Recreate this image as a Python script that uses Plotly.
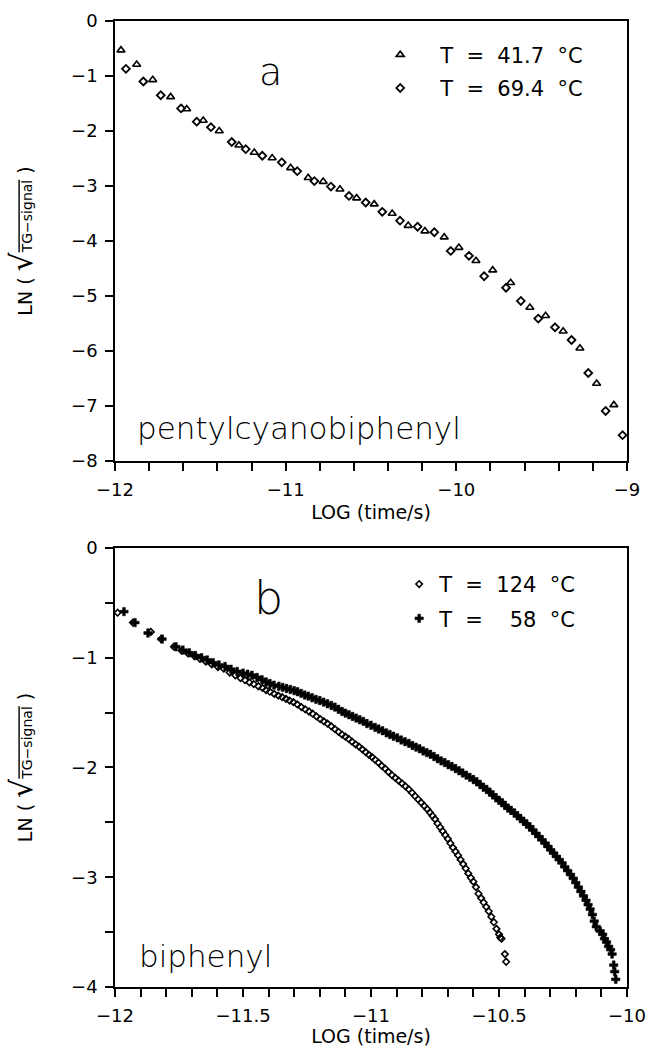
import plotly.graph_objects as go

# panel a: pentylcyanobiphenyl
a_tri_x = [-11.965, -11.873, -11.779, -11.674, -11.580, -11.483, -11.389, -11.274, -11.184, -11.079,
           -10.971, -10.868, -10.780, -10.682, -10.584, -10.481, -10.376, -10.282, -10.184, -10.071,
           -9.985, -9.885, -9.787, -9.682, -9.569, -9.477, -9.374, -9.276, -9.178, -9.077]
a_tri_y = [-0.53, -0.79, -1.07, -1.38, -1.60, -1.81, -2.00, -2.26, -2.39, -2.49,
           -2.67, -2.85, -2.92, -3.06, -3.22, -3.33, -3.50, -3.72, -3.82, -3.93,
           -4.12, -4.36, -4.53, -4.76, -5.21, -5.36, -5.64, -5.95, -6.59, -6.98]
a_dia_x = [-11.936, -11.834, -11.732, -11.613, -11.521, -11.438, -11.316, -11.234, -11.137, -11.023,
           -10.932, -10.832, -10.735, -10.629, -10.531, -10.434, -10.330, -10.227, -10.129, -10.033,
           -9.926, -9.837, -9.709, -9.622, -9.520, -9.422, -9.325, -9.227, -9.125, -9.026]
a_dia_y = [-0.87, -1.10, -1.35, -1.59, -1.83, -1.93, -2.20, -2.33, -2.45, -2.57,
           -2.73, -2.91, -3.01, -3.18, -3.30, -3.47, -3.63, -3.74, -3.84, -4.18,
           -4.27, -4.64, -4.85, -5.09, -5.41, -5.57, -5.80, -6.40, -7.09, -7.53]

# panel b: biphenyl, T = 124 C (diamonds)
b_dia_x = [-11.99, -11.93, -11.86, -11.82, -11.77, -11.74, -11.715, -11.69, -11.668, -11.645,
           -11.622, -11.598, -11.575, -11.552, -11.53, -11.51, -11.492, -11.475, -11.458, -11.44,
           -11.424, -11.41, -11.395, -11.378, -11.362, -11.347, -11.332, -11.318, -11.303, -11.288,
           -11.272, -11.257, -11.242, -11.228, -11.213, -11.198, -11.184, -11.17, -11.155, -11.141,
           -11.127, -11.113, -11.1, -11.087, -11.074, -11.06, -11.047, -11.034, -11.021, -11.008,
           -10.996, -10.984, -10.971, -10.958, -10.945, -10.932, -10.918, -10.905, -10.892, -10.879,
           -10.866, -10.852, -10.84, -10.828, -10.816, -10.804, -10.792, -10.78, -10.77, -10.76,
           -10.75, -10.74, -10.73, -10.72, -10.71, -10.70, -10.69, -10.68, -10.67, -10.66,
           -10.65, -10.64, -10.63, -10.62, -10.61, -10.60, -10.59, -10.58, -10.57, -10.56,
           -10.55, -10.54, -10.53, -10.52, -10.51, -10.50, -10.495, -10.49, -10.477, -10.472]
b_dia_y = [-0.59, -0.68, -0.765, -0.83, -0.90, -0.935, -0.96, -0.985, -1.01, -1.035,
           -1.06, -1.085, -1.10, -1.135, -1.16, -1.185, -1.205, -1.225, -1.24, -1.26,
           -1.275, -1.295, -1.31, -1.33, -1.345, -1.36, -1.375, -1.39, -1.405, -1.425,
           -1.45, -1.47, -1.49, -1.51, -1.535, -1.56, -1.58, -1.60, -1.625, -1.65,
           -1.675, -1.70, -1.72, -1.74, -1.765, -1.79, -1.81, -1.835, -1.86, -1.885,
           -1.905, -1.93, -1.955, -1.985, -2.01, -2.04, -2.07, -2.095, -2.12, -2.145,
           -2.17, -2.20, -2.23, -2.26, -2.29, -2.32, -2.35, -2.38, -2.41, -2.44,
           -2.47, -2.51, -2.545, -2.58, -2.615, -2.65, -2.69, -2.73, -2.765, -2.80,
           -2.84, -2.88, -2.92, -2.965, -3.005, -3.04, -3.09, -3.15, -3.19, -3.23,
           -3.27, -3.31, -3.36, -3.41, -3.47, -3.52, -3.55, -3.56, -3.70, -3.77]

# panel b: biphenyl, T = 58 C (crosses)
b_crs_x = [-11.965, -11.922, -11.871, -11.816, -11.762, -11.735, -11.71, -11.686, -11.662, -11.64,
           -11.617, -11.594, -11.57, -11.547, -11.523, -11.5, -11.482, -11.465, -11.445, -11.426,
           -11.41, -11.395, -11.379, -11.36, -11.345, -11.33, -11.315, -11.3, -11.287, -11.273,
           -11.259, -11.245, -11.23, -11.215, -11.2, -11.185, -11.17, -11.155, -11.141, -11.127,
           -11.113, -11.1, -11.086, -11.072, -11.058, -11.044, -11.03, -11.016, -11.0, -10.984,
           -10.97, -10.955, -10.94, -10.926, -10.912, -10.897, -10.882, -10.867, -10.852, -10.838,
           -10.824, -10.81, -10.796, -10.782, -10.768, -10.754, -10.74, -10.726, -10.712, -10.698,
           -10.684, -10.67, -10.656, -10.642, -10.628, -10.614, -10.6, -10.587, -10.574, -10.561,
           -10.548, -10.536, -10.524, -10.512, -10.5, -10.488, -10.477, -10.465, -10.453, -10.44,
           -10.428, -10.416, -10.404, -10.392, -10.38, -10.368, -10.356, -10.344, -10.332, -10.32,
           -10.309, -10.298, -10.287, -10.276, -10.265, -10.254, -10.243, -10.232, -10.221, -10.21,
           -10.2, -10.19, -10.18, -10.17, -10.16, -10.152, -10.144, -10.135, -10.128, -10.12,
           -10.105, -10.095, -10.088, -10.08, -10.072, -10.064, -10.058, -10.052, -10.048, -10.044]
b_crs_y = [-0.58, -0.68, -0.775, -0.83, -0.90, -0.93, -0.955, -0.98, -1.0, -1.02,
           -1.045, -1.065, -1.08, -1.105, -1.125, -1.14, -1.15, -1.16, -1.18, -1.20,
           -1.22, -1.235, -1.25, -1.26, -1.27, -1.28, -1.29, -1.30, -1.31, -1.325,
           -1.34, -1.35, -1.365, -1.38, -1.39, -1.405, -1.42, -1.435, -1.45, -1.47,
           -1.49, -1.505, -1.52, -1.535, -1.55, -1.565, -1.58, -1.60, -1.615, -1.635,
           -1.65, -1.665, -1.685, -1.70, -1.715, -1.73, -1.75, -1.765, -1.78, -1.80,
           -1.815, -1.83, -1.85, -1.865, -1.88, -1.90, -1.92, -1.94, -1.955, -1.975,
           -1.99, -2.01, -2.03, -2.05, -2.07, -2.09, -2.11, -2.13, -2.155, -2.18,
           -2.20, -2.225, -2.25, -2.275, -2.30, -2.32, -2.345, -2.37, -2.39, -2.415,
           -2.44, -2.465, -2.49, -2.515, -2.54, -2.57, -2.60, -2.63, -2.66, -2.69,
           -2.72, -2.75, -2.78, -2.81, -2.84, -2.87, -2.905, -2.94, -2.975, -3.01,
           -3.05, -3.09, -3.13, -3.17, -3.21, -3.25, -3.29, -3.34, -3.40, -3.45,
           -3.49, -3.52, -3.56, -3.59, -3.63, -3.66, -3.70, -3.80, -3.86, -3.93]

NB = "\u00a0"
names_a = [NB * 3 + "T" + NB * 2 + "=" + NB * 2 + "41.7" + NB * 2 + "°C",
           NB * 3 + "T" + NB * 2 + "=" + NB * 2 + "69.4" + NB * 2 + "°C"]
names_b = ["T" + NB * 2 + "=" + NB * 2 + "124" + NB * 2 + "°C",
           "T" + NB * 2 + "=" + NB * 4 + "58" + NB * 2 + "°C"]

FONT = "DejaVu Sans"
ytitle = ("LN ( <span style='font-size:30px'>√</span>"
          "<span style='font-size:14px;text-decoration:overline'>TG−signal</span> )")

fig = go.Figure()
fig.add_trace(go.Scatter(x=a_tri_x, y=a_tri_y, mode="markers", name=names_a[0],
                         legend="legend", legendgroup="a1", xaxis="x", yaxis="y",
                         marker=dict(symbol="triangle-up-open", size=7, color="black",
                                     line=dict(width=1.6, color="black"))))
fig.add_trace(go.Scatter(x=a_dia_x, y=a_dia_y, mode="markers", name=names_a[1],
                         legend="legend", legendgroup="a2", xaxis="x", yaxis="y",
                         marker=dict(symbol="diamond-open", size=6, color="black",
                                     line=dict(width=1.8, color="black"))))
fig.add_trace(go.Scatter(x=b_dia_x, y=b_dia_y, mode="markers", name=names_b[0],
                         legend="legend2", legendgroup="b1", xaxis="x2", yaxis="y2",
                         marker=dict(symbol="diamond-open", size=5, color="black",
                                     line=dict(width=1.6, color="black"))))
fig.add_trace(go.Scatter(x=b_crs_x, y=b_crs_y, mode="markers", name=names_b[1],
                         legend="legend2", legendgroup="b2", xaxis="x2", yaxis="y2",
                         marker=dict(symbol="cross", size=7, color="black",
                                     line=dict(width=0.5, color="black"))))

axis_common = dict(showline=True, linecolor="black", linewidth=1.6, mirror=True,
                   showgrid=False, zeroline=False, ticks="outside", ticklen=8,
                   tickwidth=1.5, tickcolor="black", automargin=False,
                   tickfont=dict(family=FONT, size=18, color="black"))
minor_style = dict(ticks="outside", ticklen=8, tickwidth=1.5, tickcolor="black")

fig.update_layout(
    width=652, height=1047,
    margin=dict(l=115, r=25, t=21, b=60),
    plot_bgcolor="white", paper_bgcolor="white",
    font=dict(family=FONT, color="black"),
    xaxis=dict(**axis_common, domain=[0, 1], anchor="y", range=[-12, -9], dtick=1,
               ticklabelstandoff=4, minor=dict(dtick=0.2, **minor_style),
               title=dict(text="LOG (time/s)", font=dict(family=FONT, size=19), standoff=6)),
    yaxis=dict(**axis_common, domain=[0.5445, 1], anchor="x", range=[-8, 0], dtick=1,
               ticklabelstandoff=4,
               title=dict(text=ytitle, font=dict(family=FONT, size=19), standoff=33)),
    xaxis2=dict(**axis_common, domain=[0, 1], anchor="y2", range=[-12, -10], dtick=0.5,
                ticklabelstandoff=4, minor=dict(dtick=0.1, **minor_style),
                title=dict(text="LOG (time/s)", font=dict(family=FONT, size=19), standoff=4)),
    yaxis2=dict(**axis_common, domain=[0, 0.4545], anchor="x2", range=[-4, 0], dtick=1,
                ticklabelstandoff=4, minor=dict(dtick=0.5, **minor_style),
                title=dict(text=ytitle, font=dict(family=FONT, size=19), standoff=33)),
    legend=dict(x=0.518, y=0.986, xanchor="left", yanchor="top", bgcolor="rgba(0,0,0,0)",
                font=dict(family=FONT, size=21), tracegroupgap=3, traceorder="grouped"),
    legend2=dict(x=0.555, y=0.438, xanchor="left", yanchor="top", bgcolor="rgba(0,0,0,0)",
                 font=dict(family=FONT, size=21), tracegroupgap=4, traceorder="grouped"),
    showlegend=True,
    annotations=[
        dict(text="a", x=-11.086, y=-0.93, xref="x", yref="y", showarrow=False,
             font=dict(family=FONT, size=38, weight=200)),
        dict(text="pentylcyanobiphenyl", x=-11.883, y=-7.40, xref="x", yref="y",
             xanchor="left", showarrow=False, font=dict(family=FONT, size=31, weight=200)),
        dict(text="b", x=-11.40, y=-0.455, xref="x2", yref="y2", showarrow=False,
             font=dict(family=FONT, size=46, weight=200)),
        dict(text="biphenyl", x=-11.914, y=-3.72, xref="x2", yref="y2",
             xanchor="left", showarrow=False, font=dict(family=FONT, size=31, weight=200)),
    ],
)

fig.write_html("out.html", config={"displayModeBar": False},
               post_script="document.body.style.margin='0';")
